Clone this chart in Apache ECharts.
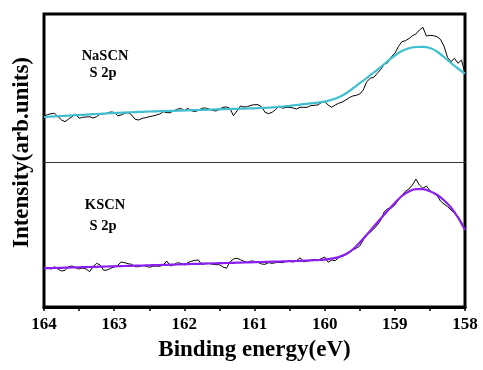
<!DOCTYPE html>
<html>
<head>
<meta charset="utf-8">
<script src="https://cdn.jsdelivr.net/npm/echarts@6/dist/echarts.min.js"></script>
<style>html,body{margin:0;padding:0;background:#fff}#c{width:483px;height:370px}</style>
</head>
<body>
<div id="c"></div>
<script>
// Binding energy (eV) sampling of the measured spectra
var rawEnergy = [
164.00,163.95,163.90,163.85,163.80,163.75,163.70,163.65,163.60,163.55,
163.50,163.45,163.40,163.35,163.30,163.25,163.20,163.15,163.10,163.05,
163.00,162.95,162.90,162.85,162.80,162.75,162.70,162.65,162.60,162.55,
162.50,162.45,162.40,162.35,162.30,162.25,162.20,162.15,162.10,162.05,
162.00,161.95,161.90,161.85,161.80,161.75,161.70,161.65,161.60,161.55,
161.50,161.45,161.40,161.35,161.30,161.25,161.20,161.15,161.10,161.05,
161.00,160.95,160.90,160.85,160.80,160.75,160.70,160.65,160.60,160.55,
160.50,160.45,160.40,160.35,160.30,160.25,160.20,160.15,160.10,160.05,
160.00,159.95,159.90,159.85,159.80,159.75,159.70,159.65,159.60,159.55,
159.50,159.45,159.40,159.35,159.30,159.25,159.20,159.15,159.10,159.05,
159.00,158.95,158.90,158.85,158.80,158.75,158.70,158.65,158.60,158.55,
158.50,158.45,158.40,158.35,158.30,158.25,158.20,158.15,158.10,158.05,
158.00];
var fitEnergy = [
164.0,163.9,163.8,163.7,163.6,163.5,163.4,163.3,163.2,163.1,
163.0,162.9,162.8,162.7,162.6,162.5,162.4,162.3,162.2,162.1,
162.0,161.9,161.8,161.7,161.6,161.5,161.4,161.3,161.2,161.1,
161.0,160.9,160.8,160.7,160.6,160.5,160.4,160.3,160.2,160.1,
160.0,159.9,159.8,159.7,159.6,159.5,159.4,159.3,159.2,159.1,
159.0,158.9,158.8,158.7,158.6,158.5,158.4,158.3,158.2,158.1,
158.0];
// NaSCN S 2p (arb. units)
var nascnRaw = [
46,47.3,48.3,48.7,45.3,42,40.3,43,45.3,48,
43.7,44.7,45,45.3,44,45.3,48,48,49,50,
49.7,46.3,47,48.7,49.3,47,42.7,42,43.7,44.3,
45.3,46,47,48,50.3,49.3,49.3,51.3,52.7,53.7,
51.3,53.7,51.3,50.3,51.7,53.7,54,53,51.7,51,
52.7,54.7,55,53.7,46.3,51,56,55,55.3,56.7,
57.3,57.3,55.3,49.7,48.3,49.7,52.3,56,53.7,54.7,
54.7,54,53,54.7,54.7,54.7,56.3,56.7,57,59.3,
60.3,57,54.7,57,58.7,60,62,64.3,66,66.7,
68,72,80.3,83.7,84.7,88.7,92.7,97.7,99.3,105.3,
108.7,115.3,120.3,121.3,123.3,126.3,128,132,134.7,126,
126.7,126.3,125.3,122.7,116,104.7,100.3,103.7,98.7,102,
88.7];
var nascnFit = [
45.0,45.4,45.8,46.2,46.6,47.0,47.4,47.8,48.2,48.6,
49.0,49.3,49.6,49.9,50.2,50.5,50.7,50.9,51.1,51.3,
51.5,51.8,52.0,52.2,52.5,52.7,52.9,53.1,53.3,53.5,
53.7,54.0,54.4,54.9,55.5,56.2,57.0,57.8,58.6,59.4,
60.3,62.2,64.8,68.5,73.5,78.8,84.0,89.5,95.0,101.0,
106.5,111.0,113.8,115.0,115.2,114.0,110.5,105.0,99.0,93.5,
88.5];
// KSCN S 2p (arb. units)
var kscnRaw = [
38.7,39.3,38,40.3,38,36,36.7,40.3,41,39.3,
38,39,38,35.3,40.3,43.7,42,36.7,37,38.7,
40,41.7,45,44.3,43.3,42.7,40.3,40.3,41.3,41,
39.7,40.7,41,40.7,42,46,41,42.3,44.3,43.7,
42,44.3,45.7,46.7,47,42.3,43.7,43.7,42.7,42.3,
42.3,40,38.7,45,48,48.7,47.3,45.7,44.7,46,
45.7,44.7,43,42.7,44.3,43.7,44.3,44.7,44.3,45.7,
45.7,45,46.3,49.3,45,46,46.7,47.7,46.7,48.3,
50,44.7,47,46.3,49.3,50.7,52.3,54.3,57,58.7,
61,67,72,74.7,78,82,87,95.3,98.3,99,
102,107,111.3,115.7,118,122,128,122,118.7,121,
116.3,113.7,111.7,106,103,100.5,97,94,90.5,85,
77];
var kscnFit = [
38.7,38.9,39.1,39.3,39.5,39.7,39.9,40.1,40.3,40.5,
40.7,40.9,41.1,41.3,41.5,41.7,41.9,42.1,42.3,42.5,
42.8,43.0,43.2,43.4,43.6,43.8,44.0,44.2,44.4,44.6,
44.8,45.0,45.2,45.4,45.6,45.8,46.0,46.3,46.6,46.9,
47.3,48.3,50.0,52.8,57.5,64.5,72.3,80.5,88.5,96.5,
104.0,111.0,115.5,117.8,117.8,115.8,112.3,106.8,99.5,89.5,
77.0];
var xTicks = [158,159,160,161,162,163,164];
var xTitle = 'Binding energy(eV)';
var yTitle = 'Intensity(arb.units)';
var panelTop = ['NaSCN', 'S 2p'];
var panelBottom = ['KSCN', 'S 2p'];

function pairs(xs, ys){ return xs.map(function(x,i){ return [x, ys[i]]; }); }

var FONT = "'Liberation Serif','Times New Roman',serif";
var chart = echarts.init(document.getElementById('c'), null, {renderer:'canvas'});
chart.setOption({
  animation:false,
  backgroundColor:'#fff',
  grid:[
    {left:44, right:18, top:14, height:148},
    {left:44, right:18, top:162, height:145},
    {left:44, right:18, top:14, height:293, show:true, borderColor:'#000', borderWidth:3, backgroundColor:'rgba(0,0,0,0)'}
  ],
  xAxis:[
    {type:'value', gridIndex:0, min:158, max:164, interval:1, inverse:true, position:'bottom',
     axisLine:{show:true, onZero:false, lineStyle:{color:'#333', width:1}},
     axisTick:{show:false}, axisLabel:{show:false}, splitLine:{show:false}},
    {type:'value', gridIndex:1, min:158, max:164, interval:1, inverse:true, position:'bottom',
     axisLine:{show:true, onZero:false, lineStyle:{color:'#000', width:3}},
     axisTick:{show:true, length:4, lineStyle:{color:'#000', width:1.5}},
     minorTick:{show:true, splitNumber:2, length:4, lineStyle:{color:'#000', width:1.5}},
     axisLabel:{show:true, margin:9, color:'#000', fontFamily:FONT, fontWeight:'bold', fontSize:17,
       formatter:function(v){ return xTicks.indexOf(v) >= 0 ? String(v) : ''; }},
     splitLine:{show:false},
     name:xTitle, nameLocation:'middle', nameGap:32,
     nameTextStyle:{color:'#000', fontFamily:FONT, fontWeight:'bold', fontSize:23}},
    {type:'value', gridIndex:2, min:158, max:164, show:false}
  ],
  yAxis:[
    {type:'value', gridIndex:0, min:0, max:148, show:false},
    {type:'value', gridIndex:1, min:0, max:145, show:false},
    {type:'value', gridIndex:2, min:0, max:1, show:true,
     axisLine:{show:false}, axisTick:{show:false}, axisLabel:{show:false}, splitLine:{show:false},
     name:yTitle, nameLocation:'middle', nameGap:10,
     nameTextStyle:{color:'#000', fontFamily:FONT, fontWeight:'bold', fontSize:23, padding:[0,0,0,16]}}
  ],
  series:[
    {type:'line', xAxisIndex:0, yAxisIndex:0, data:pairs(rawEnergy, nascnRaw), showSymbol:false,
     lineStyle:{color:'#000', width:1}, z:2},
    {type:'line', xAxisIndex:0, yAxisIndex:0, data:pairs(fitEnergy, nascnFit), showSymbol:false, smooth:0.3,
     lineStyle:{color:'#3FBFCF', width:2.2}, z:3},
    {type:'line', xAxisIndex:1, yAxisIndex:1, data:pairs(rawEnergy, kscnRaw), showSymbol:false,
     lineStyle:{color:'#000', width:1}, z:2},
    {type:'line', xAxisIndex:1, yAxisIndex:1, data:pairs(fitEnergy, kscnFit), showSymbol:false, smooth:0.3,
     lineStyle:{color:'#8A1FF0', width:2.2}, z:3}
  ],
  graphic:[
    {type:'text', x:105, y:56.5, style:{text:panelTop[0], fill:'#000', font:'bold 14.5px '+FONT, textAlign:'center', textVerticalAlign:'middle'}},
    {type:'text', x:103, y:73.5, style:{text:panelTop[1], fill:'#000', font:'bold 14.5px '+FONT, textAlign:'center', textVerticalAlign:'middle'}},
    {type:'text', x:105, y:205, style:{text:panelBottom[0], fill:'#000', font:'bold 14.5px '+FONT, textAlign:'center', textVerticalAlign:'middle'}},
    {type:'text', x:103, y:226, style:{text:panelBottom[1], fill:'#000', font:'bold 14.5px '+FONT, textAlign:'center', textVerticalAlign:'middle'}}
  ]
});
</script>
</body>
</html>
